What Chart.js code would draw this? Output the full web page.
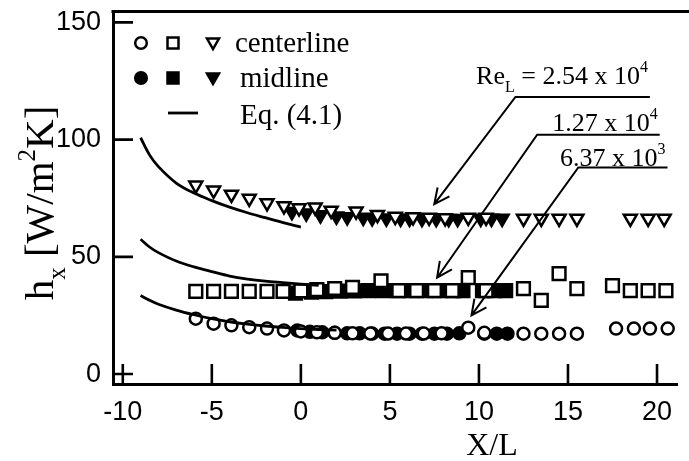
<!DOCTYPE html>
<html>
<head>
<meta charset="utf-8">
<script src="https://cdn.jsdelivr.net/npm/chart.js@4.4.1/dist/chart.umd.min.js"></script>
<style>
  html, body { margin: 0; padding: 0; background: #fff; }
  #wrap { width: 689px; height: 461px; }
</style>
</head>
<body>
<div id="wrap"><canvas id="hx-chart" width="689" height="461"></canvas></div>
<script>
// axis ranges and ticks
const xMin = -10.55, xMax = 21.15;
const yMin = -4.24, yMax = 154.66;
const xTicks = [-10, -5, 0, 5, 10, 15, 20];
const yTicks = [0, 50, 100, 150];

// Eq. (4.1) curves, one per Re_L
const eqX    = [-9, -8.5, -8, -7, -6, -5, -4, -3, -2, -1, 0, 1, 2];
const eqTopY = [100.8, 93.5, 88.5, 81.5, 77.2, 74.0, 71.2, 68.8, 66.7, 64.6, 62.7, null, null];
const eqMidY = [57.5, 54.2, 51.8, 48.2, 45.7, 43.7, 41.8, 40.5, 39.6, 39.0, 38.4, 37.8, null];
const eqBotY = [33.5, 31.5, 29.8, 27.3, 25.3, 23.6, 22.3, 21.3, 20.5, 19.9, 19.4, 19.0, 18.7];

// Re_L = 2.54 x 10^4 (triangles)
const triCenterX = [-5.9, -4.9, -3.9, -2.9, -1.9, -0.95, -0.1, 0.8, 1.7, 3.1, 4.3, 5.3, 6.3, 7.2, 8.1, 9.4, 10.4, 12.5, 13.5, 14.5, 15.5, 18.5, 19.5, 20.4];
const triCenterY = [80.5, 78.4, 76.6, 74.9, 73.0, 71.7, 70.8, 71.2, 69.8, 69.5, 68.0, 67.2, 67.0, 66.8, 66.6, 66.8, 66.8, 66.4, 66.4, 66.4, 66.4, 66.4, 66.4, 66.4];
const triMidX = [-0.5, 0.3, 1.1, 2.0, 2.6, 3.5, 4.0, 4.8, 5.6, 6.1, 6.8, 7.6, 8.3, 8.8, 10.1, 10.7, 11.3];
const triMidY = [69.2, 68.6, 67.8, 67.3, 67.0, 66.8, 66.6, 66.5, 66.4, 66.4, 66.3, 66.3, 66.3, 66.3, 66.4, 66.4, 66.4];

// Re_L = 1.27 x 10^4 (squares)
const sqCenterX = [-5.9, -4.9, -3.9, -2.9, -1.9, -1.0, 0.0, 0.9, 1.9, 2.9, 4.5, 5.5, 6.5, 7.5, 8.5, 9.4, 10.4, 12.5, 13.5, 14.5, 15.5, 17.5, 18.5, 19.5, 20.5];
const sqCenterY = [35.3, 35.3, 35.3, 35.3, 35.3, 35.3, 35.5, 36.0, 36.5, 37.0, 39.8, 35.6, 35.6, 35.6, 35.6, 41.1, 35.6, 36.4, 31.4, 42.8, 36.4, 37.7, 35.6, 35.6, 35.6];
const sqMidX = [-0.3, 0.6, 1.4, 2.2, 3.0, 3.8, 4.6, 5.4, 6.2, 7.0, 7.8, 8.6, 9.1, 10.2, 10.9, 11.5];
const sqMidY = [34.5, 35.0, 35.2, 35.4, 35.5, 35.6, 35.6, 35.6, 35.6, 35.6, 35.6, 35.6, 35.6, 35.6, 35.6, 35.6];

// Re_L = 6.37 x 10^3 (circles)
const circCenterX = [-5.9, -4.9, -3.9, -2.9, -1.9, -0.95, 0.0, 0.9, 1.9, 2.9, 3.9, 4.9, 5.9, 6.9, 7.9, 9.4, 10.3, 12.5, 13.5, 14.5, 15.5, 17.7, 18.7, 19.6, 20.6];
const circCenterY = [23.6, 21.5, 20.8, 20.0, 19.4, 18.6, 18.2, 17.8, 17.6, 17.4, 17.3, 17.3, 17.3, 17.3, 17.4, 19.8, 17.6, 17.2, 17.2, 17.2, 17.2, 19.4, 19.4, 19.4, 19.4];
const circMidX = [-0.2, 0.5, 1.2, 1.9, 2.6, 3.3, 4.0, 4.7, 5.4, 6.1, 6.8, 7.5, 8.2, 8.9, 10.3, 11.0, 11.6];
const circMidY = [18.6, 18.0, 17.8, 17.6, 17.4, 17.4, 17.3, 17.2, 17.2, 17.2, 17.2, 17.2, 17.2, 17.4, 17.2, 17.2, 17.2];

// Re_L callouts: text, shelf start, arrow tip (data units)
const noteLabels = [
  [["Re", ""], ["L", "sub"], [" = 2.54 x 10", ""], ["4", "sup"]],
  [["1.27 x 10", ""], ["4", "sup"]],
  [["6.37 x 10", ""], ["3", "sup"]]
];
const noteFromX = [12.05, 13.27, 15.58];
const noteFromY = [118.2, 102.1, 88.1];
const noteTipX  = [7.49, 7.65, 9.58];
const noteTipY  = [72.5, 41.1, 25.0];
const noteShelfEndX = [19.6, 20.15, 20.59];
const noteTextGap = [13, 4, 2];

const SERIF = '"Liberation Serif", "Times New Roman", serif';
const SANS = '"Liberation Sans", Arial, sans-serif';

function pts(xs, ys) {
  return xs.map((x, i) => ({ x: x, y: ys[i] }));
}

function lineSet(ys) {
  return {
    data: pts(eqX, ys),
    showLine: true,
    borderColor: "#000",
    borderWidth: 2.8,
    pointRadius: 0,
    tension: 0.35,
    spanGaps: false
  };
}

function markerSet(xs, ys, style, filled) {
  const set = {
    data: pts(xs, ys),
    showLine: false,
    pointStyle: style,
    borderColor: "#000",
    backgroundColor: filled ? "#000" : "#fff",
    borderWidth: 2.5,
    pointRadius: 6
  };
  if (style === "rect") set.pointRadius = 9;
  if (style === "triangle") {
    set.pointRadius = 7.5;
    set.rotation = 180;
  }
  return set;
}

// rich text with sub/superscripts, baseline at y
function drawRich(ctx, parts, x, y, size, align) {
  const small = Math.round(size * 0.62);
  let w = 0;
  parts.forEach(p => {
    ctx.font = (p[1] ? small : size) + "px " + SERIF;
    w += ctx.measureText(p[0]).width;
  });
  let cx = align === "right" ? x - w : align === "center" ? x - w / 2 : x;
  parts.forEach(p => {
    ctx.font = (p[1] ? small : size) + "px " + SERIF;
    const dy = p[1] === "sub" ? size * 0.3 : p[1] === "sup" ? -size * 0.45 : 0;
    ctx.fillText(p[0], cx, y + dy);
    cx += ctx.measureText(p[0]).width;
  });
}

function drawMarker(ctx, style, x, y, filled) {
  ctx.save();
  ctx.lineWidth = 2.5;
  ctx.strokeStyle = "#000";
  ctx.fillStyle = filled ? "#000" : "#fff";
  ctx.beginPath();
  if (style === "circle") {
    ctx.arc(x, y, 5.8, 0, Math.PI * 2);
  } else if (style === "rect") {
    ctx.rect(x - 5.5, y - 5.5, 11, 11);
  } else {
    ctx.moveTo(x - 6, y - 4.5);
    ctx.lineTo(x + 6, y - 4.5);
    ctx.lineTo(x, y + 6);
    ctx.closePath();
  }
  ctx.fill();
  ctx.stroke();
  ctx.restore();
}

const paperDecor = {
  id: "paperDecor",
  afterDraw(chart) {
    const ctx = chart.ctx;
    const area = chart.chartArea;
    const xs = chart.scales.x;
    const ys = chart.scales.y;

    ctx.save();
    ctx.strokeStyle = "#000";
    ctx.fillStyle = "#000";

    // top frame line
    ctx.lineWidth = 3;
    ctx.beginPath();
    ctx.moveTo(area.left - 1.5, area.top);
    ctx.lineTo(chart.width, area.top);
    ctx.stroke();

    // inward tick marks
    ctx.lineWidth = 2.6;
    ctx.beginPath();
    xTicks.forEach(v => {
      const px = xs.getPixelForValue(v);
      ctx.moveTo(px, area.bottom);
      ctx.lineTo(px, area.bottom - 20);
    });
    yTicks.forEach(v => {
      const py = ys.getPixelForValue(v);
      ctx.moveTo(area.left, py);
      ctx.lineTo(area.left + 20, py);
    });
    ctx.stroke();

    // legend
    const rows = [
      { y: 43, filled: false, label: "centerline", tx: 235 },
      { y: 78, filled: true, label: "midline", tx: 240 }
    ];
    rows.forEach(r => {
      drawMarker(ctx, "circle", 141, r.y, r.filled);
      drawMarker(ctx, "rect", 173, r.y, r.filled);
      drawMarker(ctx, "triangle", 213, r.y, r.filled);
      ctx.textAlign = "left";
      ctx.textBaseline = "alphabetic";
      drawRich(ctx, [[r.label, ""]], r.tx, r.y + 9, 29, "left");
    });
    ctx.lineWidth = 2.8;
    ctx.beginPath();
    ctx.moveTo(168, 113);
    ctx.lineTo(198, 113);
    ctx.stroke();
    drawRich(ctx, [["Eq. (4.1)", ""]], 240, 124, 29, "left");

    // Re_L callouts
    ctx.lineWidth = 2;
    noteLabels.forEach((parts, i) => {
      const fx = xs.getPixelForValue(noteFromX[i]);
      const fy = ys.getPixelForValue(noteFromY[i]);
      const tx = xs.getPixelForValue(noteTipX[i]);
      const ty = ys.getPixelForValue(noteTipY[i]);
      const ex = xs.getPixelForValue(noteShelfEndX[i]);
      ctx.beginPath();
      ctx.moveTo(ex, fy);
      ctx.lineTo(fx, fy);
      ctx.lineTo(tx, ty);
      const ang = Math.atan2(fy - ty, fx - tx);
      const head = 17;
      ctx.moveTo(tx + head * Math.cos(ang + 0.45), ty + head * Math.sin(ang + 0.45));
      ctx.lineTo(tx, ty);
      ctx.lineTo(tx + head * Math.cos(ang - 0.45), ty + head * Math.sin(ang - 0.45));
      ctx.stroke();
      drawRich(ctx, parts, ex - 2, fy - noteTextGap[i], 26, "right");
    });

    // axis titles
    drawRich(ctx, [["X/L", ""]], 492, 455, 32, "center");
    ctx.translate(53, 203);
    ctx.rotate(-Math.PI / 2);
    drawRich(ctx, [["h", ""], ["x", "sub"], [" [W/m", ""], ["2", "sup"], ["K]", ""]], 0, 0, 41, "center");
    ctx.restore();
  }
};

new Chart(document.getElementById("hx-chart"), {
  type: "scatter",
  data: {
    datasets: [
      lineSet(eqTopY),
      lineSet(eqMidY),
      lineSet(eqBotY),
      markerSet(circCenterX, circCenterY, "circle", false),
      markerSet(sqCenterX, sqCenterY, "rect", false),
      markerSet(triCenterX, triCenterY, "triangle", false),
      markerSet(circMidX, circMidY, "circle", true),
      markerSet(sqMidX, sqMidY, "rect", true),
      markerSet(triMidX, triMidY, "triangle", true)
    ]
  },
  options: {
    responsive: false,
    animation: false,
    devicePixelRatio: 1,
    layout: { padding: { top: 9, right: 0, left: 0, bottom: 0 } },
    plugins: {
      legend: { display: false },
      tooltip: { enabled: false }
    },
    scales: {
      x: {
        type: "linear",
        min: xMin,
        max: xMax,
        afterBuildTicks: s => { s.ticks = xTicks.map(v => ({ value: v })); },
        afterFit: s => {
          s.height = 77;
          s.paddingLeft = 0;
          s.paddingRight = 0;
        },
        grid: { display: false, drawTicks: false },
        border: { display: true, color: "#000", width: 3 },
        ticks: { color: "#000", font: { family: SANS, size: 27 }, padding: 12, maxRotation: 0, autoSkip: false }
      },
      y: {
        type: "linear",
        min: yMin,
        max: yMax,
        afterBuildTicks: s => { s.ticks = yTicks.map(v => ({ value: v })); },
        afterFit: s => {
          s.width = 113;
          s.paddingTop = 0;
          s.paddingBottom = 0;
        },
        grid: { display: false, drawTicks: false },
        border: { display: true, color: "#000", width: 3 },
        ticks: { color: "#000", font: { family: SANS, size: 27 }, padding: 12, autoSkip: false }
      }
    }
  },
  plugins: [paperDecor]
});
</script>
</body>
</html>
